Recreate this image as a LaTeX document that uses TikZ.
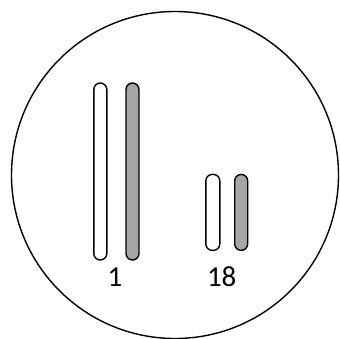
\documentclass[tikz,border=0pt]{standalone}
\usepackage{fontspec}
\setmainfont{Carlito}
\definecolor{chromgray}{RGB}{166, 166, 166}

\begin{document}
\begin{tikzpicture}[
  x=1pt, y=-1pt,
  cellbox/.style={draw=black, line width=1.4pt, circle, minimum size=327pt, inner sep=0pt},
  chrom/.style={draw=black, line width=1.4pt, rounded corners=6.5pt, minimum width=13pt, inner sep=0pt},
  numlab/.style={font=\fontsize{29}{34}\selectfont, inner sep=0pt}
]
  \useasboundingbox (0,0) rectangle (340,338);
  \node[cellbox] (cell) at (175,175) {};
  % pair 1
  \node[chrom, fill=white, minimum height=177pt] (c1a) at (100.3,171.5) {};
  \node[chrom, fill=chromgray, minimum height=177pt] (c1b) at (132.5,171.5) {};
  % pair 18
  \node[chrom, fill=white, minimum height=76pt, minimum width=14pt] (c18a) at (212.8,212.4) {};
  \node[chrom, fill=chromgray, minimum height=76pt] (c18b) at (241.2,212.4) {};
  \node[numlab] (n1) at (115,277) {1};
  \node[numlab] (n18) at (221.7,277) {18};
\end{tikzpicture}
\end{document}
